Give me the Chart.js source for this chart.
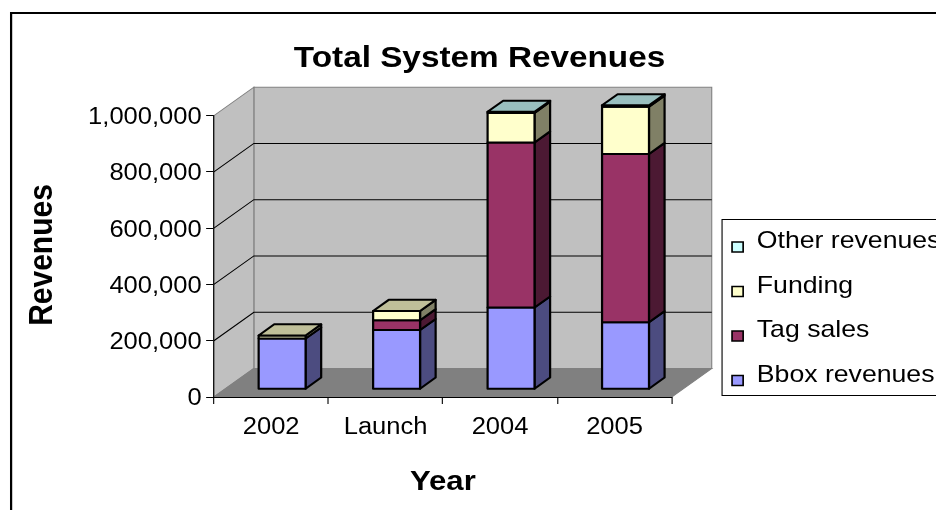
<!DOCTYPE html>
<html>
<head>
<meta charset="utf-8">
<script src="https://cdn.jsdelivr.net/npm/chart.js@4.4.1/dist/chart.umd.min.js"></script>
<style>
  html, body { margin: 0; padding: 0; background: #fff; }
  #wrap { width: 936px; height: 510px; }
</style>
</head>
<body>
<div id="wrap"><canvas id="revenueChart"></canvas></div>
<script>
const years = ['2002', 'Launch', '2004', '2005'];
const bboxRevenues = [180000, 210000, 290000, 238000];
const tagSales = [0, 35000, 587000, 598000];
const funding = [11000, 33000, 105000, 168000];
const otherRevenues = [0, 0, 4000, 5000];
const yMax = 1000000;
const yStep = 200000;

// stacking order bottom -> top; face / side / top shades of each series
const series = [
    { label: 'Bbox revenues', data: bboxRevenues, face: '#9999ff', side: '#4c4c80', top: '#7373bf' },
    { label: 'Tag sales', data: tagSales, face: '#993366', side: '#4c1933', top: '#73264d' },
    { label: 'Funding', data: funding, face: '#ffffcc', side: '#808066', top: '#bfbf99' },
    { label: 'Other revenues', data: otherRevenues, face: '#ccffff', side: '#668080', top: '#99bfbf' }
];

const FONT = '"Liberation Sans", Arial, sans-serif';
const STRETCH = 1.11;      // whole drawing is a bit wider than tall
const WALL_DX = 36;        // depth of the 3d box
const WALL_DY = -28.5;
const BAR_FRONT = 0.275;   // bars sit inside the depth
const BAR_DEPTH = 0.39;

function poly(ctx, pts, fill, stroke, width) {
    ctx.beginPath();
    ctx.moveTo(pts[0][0], pts[0][1]);
    for (let i = 1; i < pts.length; i++) ctx.lineTo(pts[i][0], pts[i][1]);
    ctx.closePath();
    if (fill) { ctx.fillStyle = fill; ctx.fill(); }
    if (stroke) { ctx.strokeStyle = stroke; ctx.lineWidth = width || 1; ctx.stroke(); }
}

const box3d = {
    id: 'box3d',
    beforeDraw(chart) {
        const ctx = chart.ctx;
        const { left, right, top, bottom } = chart.chartArea;
        const y = chart.scales.y;
        ctx.save();
        ctx.scale(STRETCH, 1);

        // frame of the chart object
        ctx.strokeStyle = '#000';
        ctx.lineWidth = 2;
        ctx.strokeRect(10, 13, 900, 600);

        // walls and floor
        poly(ctx, [[left + WALL_DX, top + WALL_DY], [right + WALL_DX, top + WALL_DY],
                   [right + WALL_DX, bottom + WALL_DY], [left + WALL_DX, bottom + WALL_DY]], '#c0c0c0', '#808080');
        poly(ctx, [[left, bottom], [left, top], [left + WALL_DX, top + WALL_DY],
                   [left + WALL_DX, bottom + WALL_DY]], '#c0c0c0', '#808080');
        poly(ctx, [[left, bottom], [right, bottom], [right + WALL_DX, bottom + WALL_DY],
                   [left + WALL_DX, bottom + WALL_DY]], '#808080', '#808080');

        // gridlines bent along the side wall and the back wall
        ctx.strokeStyle = '#000';
        ctx.lineWidth = 1;
        for (let v = yStep; v < yMax; v += yStep) {
            const py = y.getPixelForValue(v);
            ctx.beginPath();
            ctx.moveTo(left, py);
            ctx.lineTo(left + WALL_DX, py + WALL_DY);
            ctx.lineTo(right + WALL_DX, py + WALL_DY);
            ctx.stroke();
        }
    },
    beforeDatasetsDraw(chart) {
        const ctx = chart.ctx;
        const ox = BAR_FRONT * WALL_DX, oy = BAR_FRONT * WALL_DY;
        const bx = BAR_DEPTH * WALL_DX, by = BAR_DEPTH * WALL_DY;
        ctx.save();
        ctx.lineJoin = 'round';
        years.forEach((_, i) => {
            let last = null;
            series.forEach((s, d) => {
                if (!(s.data[i] > 0)) return;
                const bar = chart.getDatasetMeta(d).data[i];
                const x0 = bar.x - bar.width / 2 + ox;
                const x1 = bar.x + bar.width / 2 + ox;
                const yt = bar.y + oy;
                const yb = bar.base + oy;
                poly(ctx, [[x1, yt], [x1 + bx, yt + by], [x1 + bx, yb + by], [x1, yb]], s.side, '#000', 2);
                poly(ctx, [[x0, yt], [x1, yt], [x1, yb], [x0, yb]], s.face, '#000', 2);
                last = { s, x0, x1, yt };
            });
            if (last) {
                const { s, x0, x1, yt } = last;
                poly(ctx, [[x0, yt], [x1, yt], [x1 + bx, yt + by], [x0 + bx, yt + by]], s.top, '#000', 2);
            }
        });
        ctx.restore();
        return false;
    },
    afterDraw(chart) {
        const ctx = chart.ctx;
        ctx.fillStyle = '#000';
        ctx.textBaseline = 'alphabetic';

        ctx.font = 'bold 30px ' + FONT;
        ctx.textAlign = 'center';
        ctx.fillText('Total System Revenues', 432, 67);

        ctx.font = 'bold 28px ' + FONT;
        ctx.fillText('Year', 399, 490);

        ctx.save();
        ctx.translate(46.6, 255);
        ctx.rotate(-Math.PI / 2);
        ctx.font = 'bold 30px ' + FONT;
        ctx.fillText('Revenues', 0, 0);
        ctx.restore();

        // legend, top entry is the top of the stack
        ctx.strokeStyle = '#000';
        ctx.lineWidth = 1;
        ctx.strokeRect(650.5, 219.5, 300, 176);
        ctx.font = '24px ' + FONT;
        ctx.textAlign = 'left';
        const rows = [248, 292.5, 337, 381.5];
        series.slice().reverse().forEach((s, k) => {
            const base = rows[k];
            ctx.fillStyle = s.face;
            ctx.fillRect(659.5, base - 6, 10, 10);
            ctx.lineWidth = 1.5;
            ctx.strokeRect(659.5, base - 6, 10, 10);
            ctx.fillStyle = '#000';
            ctx.fillText(s.label, 681.8, base);
        });

        ctx.restore();
    }
};

const tickFont = { family: FONT, size: 23 };

new Chart(document.getElementById('revenueChart'), {
    type: 'bar',
    data: {
        labels: years,
        datasets: series.map(s => ({
            label: s.label,
            data: s.data,
            backgroundColor: s.face,
            barPercentage: 0.41,
            categoryPercentage: 1
        }))
    },
    options: {
        responsive: true,
        maintainAspectRatio: false,
        animation: false,
        layout: { padding: { left: 0, top: 115.7, right: 936 - 605.2, bottom: 73 } },
        plugins: {
            legend: { display: false },
            title: { display: false },
            tooltip: { enabled: false }
        },
        scales: {
            x: {
                stacked: true,
                grid: { offset: true, drawOnChartArea: false, tickLength: 7, color: '#000' },
                border: { color: '#000' },
                ticks: { font: tickFont, color: '#000', padding: 10, maxRotation: 0, autoSkip: false },
                afterFit: s => { s.height = 40; }
            },
            y: {
                stacked: true,
                min: 0,
                max: yMax,
                ticks: {
                    stepSize: yStep,
                    font: tickFont,
                    color: '#000',
                    padding: 4,
                    labelOffset: 2,
                    callback: v => v.toLocaleString('en-US')
                },
                grid: { drawOnChartArea: false, tickLength: 7, color: '#000' },
                border: { color: '#000' },
                afterFit: s => { s.width = 192.7; }
            }
        }
    },
    plugins: [box3d]
});
</script>
</body>
</html>
